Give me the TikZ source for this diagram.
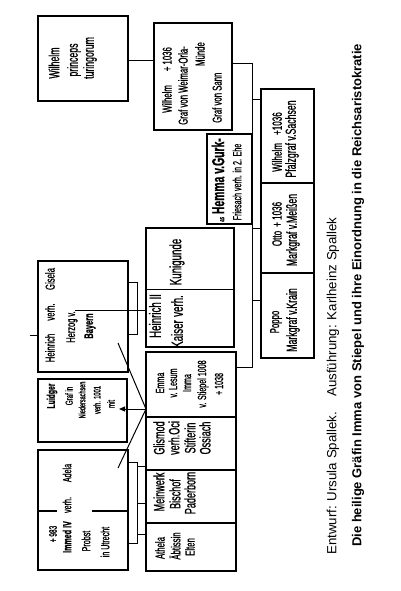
\documentclass[tikz,border=0pt]{standalone}
\usepackage{fontspec}
\setmainfont{Liberation Sans}
\newfontfamily\cond[FakeStretch=0.6, Scale=1.08, FakeBold=0.8]{Liberation Sans}
\usetikzlibrary{arrows.meta}
\begin{document}
\begin{tikzpicture}[x=1pt,y=-1pt,
  box/.style={draw, line width=1.2pt, outer sep=0pt, inner sep=0pt, anchor=north west},
  ln/.style={line width=1pt},
  lab/.style={rotate=90, inner sep=0pt, font=\cond\fontsize{#1}{#1}\selectfont}]
\fill[white] (0,0) rectangle (400,591);
\useasboundingbox (0,0) rectangle (400,591);

% boxes
\node[box, minimum width=90pt, minimum height=85pt]  (b1)       at (38,16)  {};
\node[box, minimum width=78pt, minimum height=107pt] (b2)       at (154,23) {};
\node[box, minimum width=45pt, minimum height=90pt]  (hemma)    at (207,134) {};
\node[box, minimum width=53pt, minimum height=94pt]  (wp)       at (261,89) {};
\node[box, minimum width=53pt, minimum height=90pt]  (otto)     at (261,183) {};
\node[box, minimum width=53pt, minimum height=85pt]  (poppo)    at (261,273) {};
\node[box, minimum width=90pt, minimum height=111pt] (heinrich) at (38,261) {};
\node[box, minimum width=89pt, minimum height=63pt]  (ludger)   at (38,379) {};
\node[box, minimum width=90pt, minimum height=120pt] (immed)    at (38,450) {};
\node[box, minimum width=88pt, minimum height=119pt] (h2)       at (146,228) {};
\node[box, minimum width=90pt, minimum height=65pt]  (emma)     at (146,352) {};
\node[box, minimum width=90pt, minimum height=53pt]  (glismod)  at (146,417) {};
\node[box, minimum width=90pt, minimum height=53pt]  (meinwerk) at (146,470) {};
\node[box, minimum width=90pt, minimum height=48pt]  (athela)   at (146,523) {};

% connectors
\coordinate (c61) at (0,61);
\draw[ln] (b1.east |- c61) -- (b2.west |- c61);
\coordinate (j1) at (252,64);
\coordinate (j2) at (252,367);
\draw[ln] (b2.east |- j1) -- (j1) -- (j2) -- (emma.east |- j2);
\coordinate (c100) at (0,100); \draw[ln] (j1 |- c100) -- (wp.west |- c100);
\coordinate (c228) at (0,228); \draw[ln] (j1 |- c228) -- (otto.west |- c228);
\coordinate (c300) at (0,300); \draw[ln] (j1 |- c300) -- (poppo.west |- c300);

\coordinate (hv) at (75,310);
\draw[ln] (hv) -- (h2.west |- hv);
\coordinate (hbT) at (137,282); \coordinate (hbB) at (137,334);
\draw[ln] (heinrich.east |- hbT) -- (hbT) -- (hbB) -- (heinrich.east |- hbB);

\coordinate (ibT) at (137,462); \coordinate (ibB) at (137,543);
\draw[ln] (immed.east |- ibT) -- (ibT) -- (ibB) -- (immed.east |- ibB);
\coordinate (k1) at (137,466); \coordinate (k2) at (137,503); \coordinate (k3) at (137,534);
\draw[ln] (k1) -- (glismod.west |- k1);
\draw[ln] (k2) -- (meinwerk.west |- k2);
\draw[ln] (k3) -- (athela.west |- k3);

\coordinate (dv) at (0,511);
\draw[line width=1.2pt] (immed.west |- dv) -- ++(19,0);
\draw[line width=1.2pt] (immed.east |- dv) -- ++(-36,0);
\coordinate (d2) at (0,289);
\draw[ln] (h2.west |- d2) -- (h2.east |- d2);

\coordinate (vx) at (146,409);
\coordinate (da) at (118,343); \coordinate (db) at (118,468);
\draw[ln] (da) -- (vx) -- (db);
\coordinate (ar) at (119,409);
\draw[ln, -{Triangle[length=6pt,width=5pt]}] (vx) -- (ar);

\coordinate (lt) at (30,335);
\draw[ln] (lt) -- (heinrich.west |- lt);

% texts
\node[lab=13.5] (t1a) at (54,63) {Wilhelm};
\node[lab=13.5] (t1b) at (74,60) {princeps};
\node[lab=13.5] (t1c) at (90,58) {turingorum};

\node[lab=12, anchor=west] (t2a) at (167,113) {Wilhelm\hspace{14pt}+ 1036};
\node[lab=12, anchor=west] (t2b) at (183,125) {Graf von Weimar-Orla-};
\node[lab=12, anchor=east] (t2c) at (200,42) {Münde};
\node[lab=12, anchor=west] (t2d) at (217,123) {Graf von Sann};

\node[lab=16] (t3a) at (218,180) {{\fontsize{7}{7}\selectfont as} \bfseries Hemma v.Gurk-};
\node[lab=11] (t3b) at (237,182) {Friesach verh. in 2. Ehe};

\node[lab=12.5] (t4a) at (277,142) {Wilhelm\hspace{8pt}+1036};
\node[lab=13.5] (t4b) at (292,139) {Pfalzgraf v.Sachsen};
\node[lab=12.5] (t5a) at (277,224) {Otto\hspace{4pt}+ 1036};
\node[lab=13.5] (t5b) at (293,230) {Markgraf v.Meißen};
\node[lab=12] (t6a) at (276,322) {Poppo};
\node[lab=13.5] (t6b) at (293,320) {Markgraf v.Krain};

\node[lab=15] (t7a) at (155,316) {Heinrich II};
\node[lab=15] (t7b) at (177,334) {Kaiser};
\node[lab=15] (t7c) at (177,306) {verh.};
\node[lab=15] (t7d) at (177,262) {Kunigunde};

\node[lab=12] (t8a) at (50,348) {Heinrich};
\node[lab=12] (t8b) at (50,312) {verh.};
\node[lab=12] (t8c) at (50,279) {Gisela};
\node[lab=11.5] (t8d) at (72,327) {Herzog v.};
\node[lab=11.5] (t8e) at (90,326) {\bfseries Bayern};

\node[lab=10.5] (t9a) at (52,396) {\bfseries Luidger};
\node[lab=9.5] (t9b) at (69,396) {Graf in};
\node[lab=8.5] (t9c) at (82,400) {Niedersachsen};
\node[lab=9] (t9d) at (97,400) {verh. 1001};
\node[lab=9.5] (t9e) at (111,404) {mit};

\node[lab=10] (t10a) at (53,534) {+ 983};
\node[lab=11] (t10b) at (67,537) {\bfseries Immed IV};
\node[lab=11] (t10c) at (67,505) {verh.};
\node[lab=11] (t10d) at (67,473) {Adela};
\node[lab=11] (t10e) at (86,541) {Probst};
\node[lab=11] (t10f) at (105,542) {in Utrecht};

\node[lab=11] (t11a) at (160,383) {Emma};
\node[lab=11] (t11b) at (173,383) {v. Lesum};
\node[lab=11] (t11c) at (187,383) {Imma};
\node[lab=11] (t11d) at (203,384) {v. Stiepel 1008};
\node[lab=11] (t11e) at (219,384) {+ 1038};

\node[lab=14] (t12a) at (159,438) {Glismod};
\node[lab=14] (t12b) at (174,438) {verh.Oci};
\node[lab=14] (t12c) at (190,438) {Stifterin};
\node[lab=14] (t12d) at (205,438) {Ossiach};

\node[lab=14] (t13a) at (159,492) {Meinwerk};
\node[lab=14] (t13b) at (175,494) {Bischof};
\node[lab=14] (t13c) at (190,493) {Paderborn};

\node[lab=12] (t14a) at (160,548) {Athela};
\node[lab=12] (t14b) at (175,546) {Äbtissin};
\node[lab=12] (t14c) at (190,547) {Elten};

% captions
\node[rotate=90, inner sep=0pt, anchor=west, font=\fontsize{13.3}{13.3}\selectfont] (cap1) at (333,555)
  {Entwurf: Ursula Spallek.\hspace{10pt} Ausführung: Karlheinz Spallek};
\node[rotate=90, inner sep=0pt, anchor=west, font=\bfseries\fontsize{13}{13}\selectfont] (cap2) at (358,547)
  {Die heilige Gräfin Imma von Stiepel und ihre Einordnung in die Reichsaristokratie};
\end{tikzpicture}
\end{document}
